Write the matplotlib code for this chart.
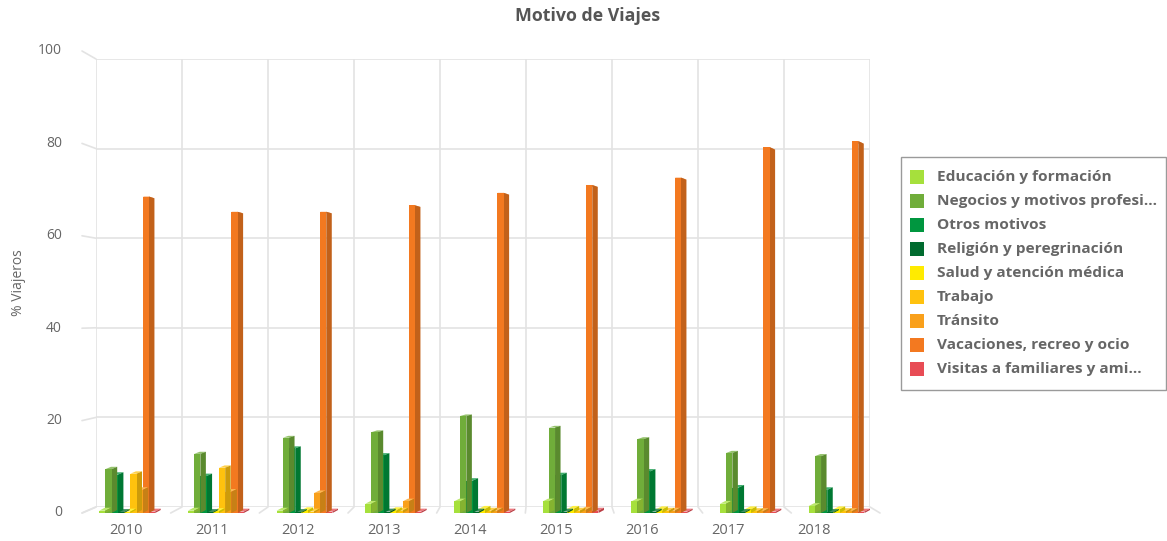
import matplotlib.pyplot as plt
import matplotlib.patches as patches
import matplotlib.transforms as mtransforms
from matplotlib.patches import ConnectionPatch
import numpy as np

years = ['2010', '2011', '2012', '2013', '2014', '2015', '2016', '2017', '2018']
series_names = ['Educación y formación', 'Negocios y motivos profesi...', 'Otros motivos',
                'Religión y peregrinación', 'Salud y atención médica', 'Trabajo',
                'Tránsito', 'Vacaciones, recreo y ocio', 'Visitas a familiares y ami...']
colors = ['#a6e03c', '#70ad3a', '#00963f', '#006b2f', '#ffeb00',
          '#ffc20e', '#f9a01b', '#f37920', '#e84c55']

educacion = [0.5, 0.5, 0.5, 2.0, 2.5, 2.5, 2.5, 2.0, 1.5]
negocios = [9.5, 12.8, 16.3, 17.5, 21.0, 18.5, 16.0, 13.0, 12.3]
otros = [8.3, 8.0, 14.0, 12.5, 7.0, 8.2, 9.0, 5.5, 5.0]
religion = [0.2, 0.2, 0.2, 0.3, 0.3, 0.3, 0.3, 0.2, 0.2]
salud = [0.3, 0.4, 0.6, 0.6, 0.9, 0.9, 0.8, 0.8, 0.8]
trabajo = [8.5, 9.8, 0.3, 0.5, 0.5, 0.5, 0.5, 0.4, 0.4]
transito = [5.0, 4.6, 4.3, 2.5, 0.5, 0.7, 0.5, 0.4, 0.4]
vacaciones = [68.5, 65.2, 65.2, 66.6, 69.3, 71.0, 72.6, 79.2, 80.5]
visitas = [0.3, 0.3, 0.3, 0.3, 0.3, 0.5, 0.3, 0.3, 0.3]
series = [educacion, negocios, otros, religion, salud, trabajo, transito, vacaciones, visitas]
y_ticks = [0, 20, 40, 60, 80, 100]

W, H = 1167, 541
fig = plt.figure(figsize=(W / 100, H / 100), dpi=100)

def fig_rect(x0, y0, x1, y1):
    # pixel box (top-left origin) -> figure fraction
    return [x0 / W, 1 - y1 / H, (x1 - x0) / W, (y1 - y0) / H]

grid_col = '#e3e3e3'
text_col = '#666666'
ui_font = ['Open Sans', 'DejaVu Sans']

# back wall
ax = fig.add_axes(fig_rect(96, 59, 870, 507))
ax.set_xlim(-0.5, 8.5)
ax.set_ylim(0, 100)
for v in y_ticks:
    ax.axhline(v, color=grid_col, lw=1.2, zorder=0)
for b in np.arange(-0.5, 9.0, 1.0):
    ax.axvline(b, color=grid_col, lw=1.2, zorder=0)
ax.set_xticks([])
ax.set_yticks([])
for s in ax.spines.values():
    s.set_visible(False)
ax.patch.set_alpha(0)

# front plane (bars live here)
axf = fig.add_axes(fig_rect(82, 51, 880, 513))
axf.set_xlim(-0.5, 8.5)
axf.set_ylim(0, 100)
axf.patch.set_alpha(0)
for s in axf.spines.values():
    s.set_visible(False)
axf.set_xticks([])
axf.set_yticks([])

# y tick labels, right aligned at x=62px
ytr = mtransforms.blended_transform_factory(fig.transFigure, axf.transData)
for v in y_ticks:
    fig.text(62 / W, v, str(v), transform=ytr, ha='right', va='center',
             fontsize=10, color=text_col, family=ui_font)

# slanted tick lines and floor lines
for v in y_ticks:
    con = ConnectionPatch(xyA=(-0.5, v), coordsA=axf.transData, xyB=(-0.5, v),
                          coordsB=ax.transData, color=grid_col, lw=1.2, zorder=0)
    fig.add_artist(con)
for b in np.arange(-0.5, 9.0, 1.0):
    con = ConnectionPatch(xyA=(b, 0), coordsA=axf.transData, xyB=(b, 0),
                          coordsB=ax.transData, color=grid_col, lw=1.2, zorder=0)
    fig.add_artist(con)

# pseudo 3D columns
bw = 0.07
DX = 0.062
def back_v(v):
    return v + 0.015 * (43 - v)

def shade(c, f):
    c = np.array(plt.matplotlib.colors.to_rgb(c))
    return tuple(np.clip(c * f, 0, 1))

def tint(c, f):
    c = np.array(plt.matplotlib.colors.to_rgb(c))
    return tuple(c + (1 - c) * f)

for i in range(len(years)):
    for j, vals in enumerate(series):
        v = vals[i]
        xl = i + 0.01 + (j - 4.5) * bw
        xr = xl + bw
        bv = back_v(v)
        b0 = back_v(0)
        z = 10 + (len(series) - j) * 3
        top = patches.Polygon([(xl, v), (xr, v), (xr + DX, bv), (xl + DX, bv)],
                              closed=True, fc=tint(colors[j], 0.25), ec='none', zorder=z)
        side = patches.Polygon([(xr, 0), (xr, v), (xr + DX, bv), (xr + DX, b0)],
                               closed=True, fc=shade(colors[j], 0.8), ec='none', zorder=z + 1)
        front = patches.Rectangle((xl, 0), bw, v, fc=colors[j], ec='none', zorder=z + 2)
        for p in (top, side, front):
            p.set_clip_on(False)
            axf.add_patch(p)

# category labels
lab_tr = mtransforms.blended_transform_factory(ax.transData, fig.transFigure) + \
    mtransforms.ScaledTranslation(-13 / 100, 0, fig.dpi_scale_trans)
for i, y in enumerate(years):
    fig.text(i, 1 - 530 / H, y, transform=lab_tr, ha='center', va='center',
             fontsize=10.5, color=text_col, family=ui_font)

fig.text(588 / W, 1 - 16 / H, 'Motivo de Viajes', ha='center', va='center',
         fontsize=12.8, fontweight='bold', color='#555555', family=ui_font)
fig.text(18 / W, 1 - 283 / H, '% Viajeros', rotation=90, ha='center', va='center',
         fontsize=10, color=text_col, family=ui_font)

# legend
fig.add_artist(patches.Rectangle((901 / W, 1 - 390 / H), 265 / W, 233 / H,
                                 transform=fig.transFigure, fc='white', ec='#9a9a9a', lw=1))
for k, name in enumerate(series_names):
    yc = 177 + 24 * k
    fig.add_artist(patches.Rectangle((910 / W, 1 - (yc + 7) / H), 14 / W, 14 / H,
                                     transform=fig.transFigure, fc=colors[k], ec='none'))
    fig.text(937 / W, 1 - yc / H, name, ha='left', va='center', fontsize=11.1,
             fontweight='bold', color=text_col, family=ui_font)

fig.savefig('out.png', dpi=100)
